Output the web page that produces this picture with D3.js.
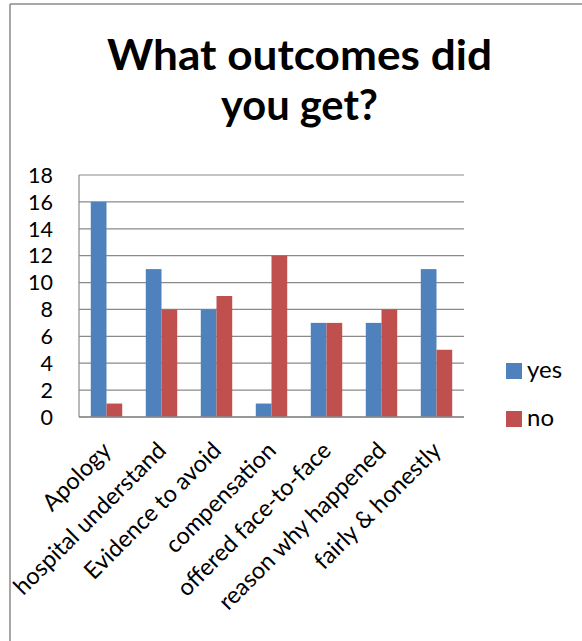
<!DOCTYPE html>
<html><head><meta charset="utf-8">
<script src="https://cdn.jsdelivr.net/npm/d3@7"></script>
<style>body{margin:0;background:#fff}svg{display:block}</style>
</head><body>
<script>
const categories = ["Apology","hospital understand","Evidence to avoid","compensation","offered face-to-face","reason why happened","fairly & honestly"];
const yesValues = [16,11,8,1,7,7,11];
const noValues = [1,8,9,12,7,8,5];
const seriesNames = ["yes","no"];
const seriesColors = ["#4F81BD","#C0504D"];
const yTicks = [0,2,4,6,8,10,12,14,16,18];

const W=582,H=641;
const font="Lato, 'Open Sans', sans-serif";
const svg=d3.select("body").append("svg").attr("width",W).attr("height",H);
svg.append("defs").append("clipPath").attr("id","frame").append("rect").attr("x",10).attr("y",4).attr("width",W).attr("height",H);
svg.append("line").attr("x1",10).attr("x2",10).attr("y1",4).attr("y2",H).attr("stroke","#8a8a8a").attr("stroke-width",1.5);
svg.append("line").attr("x1",10).attr("x2",W).attr("y1",4).attr("y2",4).attr("stroke","#8a8a8a").attr("stroke-width",1.5);

const g=svg.append("g").attr("clip-path","url(#frame)");
const L=79,R=464,T=175,B=417;
const x=d3.scaleBand().domain(categories).range([L,R]);
const y=d3.scaleLinear().domain([0,18]).range([B,T]);
const bw=x.bandwidth()/3.5;
const x1=d3.scaleBand().domain(seriesNames).range([0,bw*2]);

g.append("g").selectAll("line").data(yTicks).join("line")
 .attr("x1",L).attr("x2",R).attr("y1",d=>y(d)).attr("y2",d=>y(d))
 .attr("stroke","#8a8a8a").attr("stroke-width",1.2);
g.append("line").attr("x1",L).attr("x2",L).attr("y1",T).attr("y2",B).attr("stroke","#8a8a8a").attr("stroke-width",1.2);

const data=categories.map((c,i)=>({c,vals:[yesValues[i],noValues[i]]}));
const grp=g.append("g").selectAll("g").data(data).join("g")
 .attr("transform",d=>`translate(${x(d.c)+(x.bandwidth()-bw*2)/2},0)`);
grp.selectAll("rect").data(d=>d.vals.map((v,j)=>({v,s:seriesNames[j],j}))).join("rect")
 .attr("x",d=>x1(d.s)).attr("width",x1.bandwidth())
 .attr("y",d=>y(d.v)).attr("height",d=>B-y(d.v))
 .attr("fill",d=>seriesColors[d.j]);
g.append("line").attr("x1",L).attr("x2",R).attr("y1",B).attr("y2",B).attr("stroke","#8a8a8a").attr("stroke-width",1.5);

g.append("g").selectAll("text").data(yTicks).join("text")
 .attr("x",53).attr("y",d=>y(d)).attr("dy","0.36em").attr("text-anchor","end")
 .attr("font-family",font).attr("font-size",21.5).attr("fill","#000").text(d=>d);

g.append("g").selectAll("text").data(categories).join("text")
 .attr("transform",d=>`translate(${x(d)+x.bandwidth()/2+6},${B+35}) rotate(-45)`)
 .attr("text-anchor","end")
 .attr("font-family",font).attr("font-size",23.5).attr("fill","#000").text(d=>d);

const title=["What outcomes did","you get?"];
const titleLen=[385,157];
g.append("g").selectAll("text").data(title).join("text")
 .attr("x",299.5).attr("y",(d,i)=>70+i*50).attr("text-anchor","middle")
 .attr("textLength",(d,i)=>titleLen[i]).attr("lengthAdjust","spacingAndGlyphs")
 .attr("font-family",font).attr("font-weight","bold").attr("font-size",42).attr("fill","#000").text(d=>d);

const leg=g.append("g").selectAll("g").data(seriesNames).join("g")
 .attr("transform",(d,i)=>`translate(506,${363+i*48})`);
leg.append("rect").attr("width",16).attr("height",16).attr("fill",(d,i)=>seriesColors[i]);
leg.append("text").attr("x",21).attr("y",15).attr("font-family",font).attr("font-size",24).attr("fill","#000").text(d=>d);
</script>
</body></html>
